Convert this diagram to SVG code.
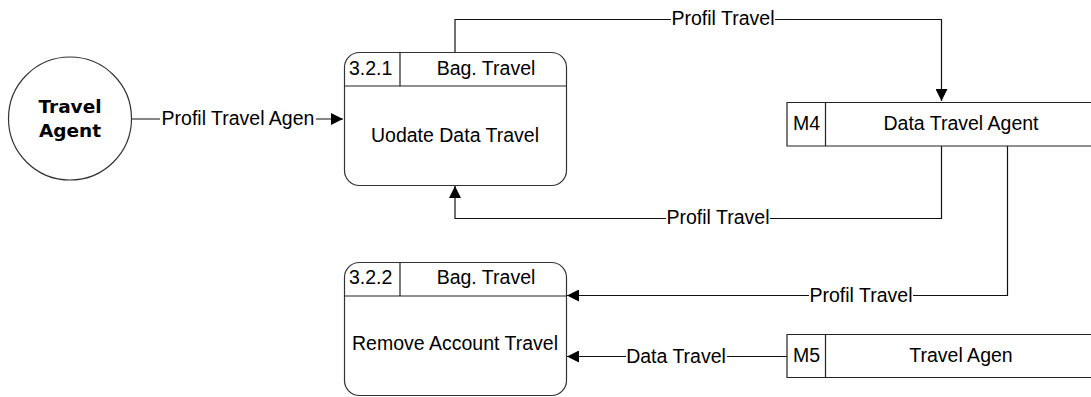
<svg xmlns="http://www.w3.org/2000/svg" width="1091" height="397" viewBox="0 0 1091 397">
<style>
text{font-family:"Liberation Sans",Arial,sans-serif;font-size:19.5px;fill:#000}
.mid{text-anchor:middle}
.shape{fill:#fff;stroke:#333;stroke-width:1.2}
.line{fill:none;stroke:#222;stroke-width:1.2}
.conn{fill:none;stroke:#111;stroke-width:1.2}
.lbl{text-anchor:middle}
.bg{fill:#fff;stroke:none}
.ent{font-family:"DejaVu Sans",Verdana,sans-serif;font-weight:bold;font-size:18.5px}
</style>
<defs>
<marker id="ah" viewBox="0 0 12 12" refX="12" refY="6" markerWidth="12" markerHeight="12" markerUnits="userSpaceOnUse" orient="auto">
<path d="M0,0 L12,6 L0,12 Z" fill="#000"/>
</marker>
</defs>
<g id="connectors">
<path class="conn" d="M131.5,119 H343" marker-end="url(#ah)"/>
<rect class="bg" x="160" y="105" width="156" height="26"/>
<text class="lbl" x="238" y="125">Profil Travel Agen</text>
<path class="conn" d="M455,52 V19.5 H941.5 V101" marker-end="url(#ah)"/>
<rect class="bg" x="671" y="6" width="104" height="26"/>
<text class="lbl" x="723" y="25">Profil Travel</text>
<path class="conn" d="M941.5,146 V218.5 H455 V186" marker-end="url(#ah)"/>
<rect class="bg" x="666" y="205" width="104" height="26"/>
<text class="lbl" x="718" y="224">Profil Travel</text>
<path class="conn" d="M1007.5,146 V295.5 H567" marker-end="url(#ah)"/>
<rect class="bg" x="809" y="282" width="104" height="26"/>
<text class="lbl" x="861" y="302">Profil Travel</text>
<path class="conn" d="M787,356.5 H567" marker-end="url(#ah)"/>
<rect class="bg" x="626" y="343" width="101" height="26"/>
<text class="lbl" x="676" y="363">Data Travel</text>
</g>
<g id="travel-agent">
<circle class="shape" cx="70" cy="118.5" r="61.5"/>
<text class="ent mid" x="70" y="113">Travel</text>
<text class="ent mid" x="70" y="137">Agent</text>
</g>
<g id="p321">
<rect class="shape" x="344.5" y="52.5" width="222" height="133" rx="15" ry="15"/>
<path class="line" d="M344.5,86 H566.5 M400,52.5 V86"/>
<text x="349" y="75">3.2.1</text>
<text class="mid" x="486" y="75">Bag. Travel</text>
<text class="mid" x="455" y="142">Uodate Data Travel</text>
</g>
<g id="p322">
<rect class="shape" x="344.5" y="262.5" width="222" height="133" rx="15" ry="15"/>
<path class="line" d="M344.5,296 H566.5 M400,262.5 V296"/>
<text x="349" y="284">3.2.2</text>
<text class="mid" x="486" y="284">Bag. Travel</text>
<text class="mid" x="455" y="350">Remove Account Travel</text>
</g>
<g id="m4">
<path class="line" d="M1091,102.5 H787 V146 H1091 M825.5,102.5 V146"/>
<text x="793" y="130">M4</text>
<text class="mid" x="961" y="130">Data Travel Agent</text>
</g>
<g id="m5">
<path class="line" d="M1091,334.5 H787 V377.5 H1091 M825.5,334.5 V377.5"/>
<text x="793" y="362">M5</text>
<text class="mid" x="961" y="362">Travel Agen</text>
</g>
</svg>
